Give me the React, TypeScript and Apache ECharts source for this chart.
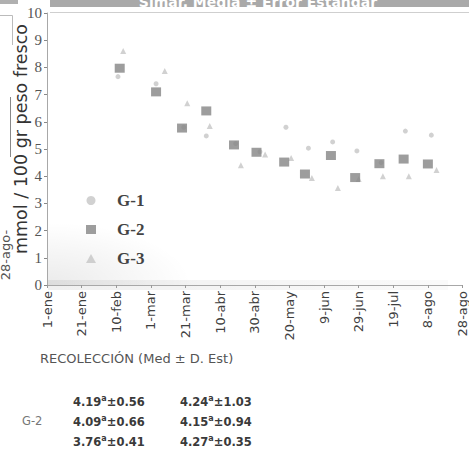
import React, { useEffect, useRef } from "react";
import * as echarts from "echarts";

// Collection dates (leap year) on the horizontal axis, every 20 days
const tickLabels = [
  "1-ene", "21-ene", "10-feb", "1-mar", "21-mar", "10-abr", "30-abr",
  "20-may", "9-jun", "29-jun", "19-jul", "8-ago", "28-ago",
];

const seriesNames = ["G-1", "G-2", "G-3"];

// G-1 sampling dates and means (mmol / 100 g fresh weight)
const g1Dates = ["11-feb", "4-mar", "20-mar", "2-abr", "19-abr", "3-may", "18-may", "31-may", "14-jun", "28-jun", "12-jul", "26-jul", "10-ago"];
const g1Values = [7.66, 7.4, 5.8, 5.48, 5.2, 4.9, 5.8, 5.03, 5.26, 4.93, 4.5, 5.66, 5.51];

// G-2
const g2Dates = ["12-feb", "4-mar", "19-mar", "2-abr", "18-abr", "1-may", "17-may", "29-may", "13-jun", "27-jun", "11-jul", "25-jul", "8-ago"];
const g2Values = [7.97, 7.1, 5.77, 6.4, 5.15, 4.88, 4.52, 4.08, 4.76, 3.95, 4.46, 4.63, 4.45];

// G-3
const g3Dates = ["14-feb", "9-mar", "22-mar", "4-abr", "22-abr", "6-may", "21-may", "2-jun", "17-jun", "29-jun", "13-jul", "28-jul", "13-ago"];
const g3Values = [8.6, 7.87, 6.68, 5.85, 4.4, 4.8, 4.67, 3.93, 3.57, 3.9, 4.0, 4.0, 4.23];

// Summary rows printed under the chart
const summaryLabel = "G-2";
const summaryCol1 = [["4.19", "0.56"], ["4.09", "0.66"], ["3.76", "0.41"]];
const summaryCol2 = [["4.24", "1.03"], ["4.15", "0.94"], ["4.27", "0.35"]];

const monthStart: Record<string, number> = {
  ene: 0, feb: 31, mar: 60, abr: 91, may: 121, jun: 152, jul: 182, ago: 213,
};

function dayOfYear(label: string): number {
  const [d, m] = label.split("-");
  return monthStart[m] + Number(d) - 1;
}

function pairs(dates: string[], values: number[]) {
  return dates.map((d, i) => [dayOfYear(d), values[i]]);
}

const SANS = "DejaVu Sans, Verdana, sans-serif";
const SERIF = "Liberation Serif, Times New Roman, serif";

export default function App() {
  const ref = useRef<HTMLDivElement>(null);

  useEffect(() => {
    if (!ref.current) return;
    const chart = echarts.init(ref.current, undefined, { renderer: "svg" });

    const summaryTexts: any[] = [];
    const rowY = [402, 422, 442];
    rowY.forEach((y, i) => {
      [summaryCol1, summaryCol2].forEach((col, c) => {
        const [m, e] = col[i];
        summaryTexts.push({
          type: "text",
          left: c === 0 ? 73 : 180,
          top: y - 8,
          style: {
            text: `{v|${m}}{s|a}{v|±${e}}`,
            rich: {
              v: { fontFamily: SANS, fontWeight: "bold", fontSize: 11.5, fill: "#3a3a3a", lineHeight: 16 },
              s: { fontFamily: SANS, fontWeight: "bold", fontSize: 8, fill: "#3a3a3a", lineHeight: 16, verticalAlign: "top", padding: [0, 0, 4, 0] },
            },
          },
        });
      });
    });

    chart.setOption({
      animation: false,
      backgroundColor: "#ffffff",
      grid: { left: 47, right: 3, top: 13, bottom: 165, containLabel: false },
      xAxis: {
        type: "value",
        min: 0,
        max: 240,
        interval: 20,
        axisLine: { show: true, lineStyle: { color: "#a8a8a8", width: 1 } },
        axisTick: { show: true, length: 3, lineStyle: { color: "#999" } },
        splitLine: { show: false },
        axisLabel: {
          rotate: 90,
          margin: 6,
          fontFamily: SANS,
          fontSize: 13,
          color: "#3f3f3f",
          formatter: (v: number) => tickLabels[Math.round(v / 20)] ?? "",
        },
      },
      yAxis: {
        type: "value",
        min: 0,
        max: 10,
        interval: 1,
        axisLine: { show: true, lineStyle: { color: "#a8a8a8", width: 1 } },
        axisTick: { show: true, length: 3, lineStyle: { color: "#888" } },
        splitLine: { show: false },
        axisLabel: { fontFamily: SERIF, fontSize: 15, color: "#555", margin: 5 },
      },
      legend: {
        orient: "vertical",
        left: 81,
        top: 187,
        itemWidth: 10,
        itemHeight: 9,
        itemGap: 12,
        data: seriesNames,
        textStyle: { fontFamily: SERIF, fontWeight: "bold", fontSize: 17, color: "#444", padding: [0, 0, 0, 16] },
      },
      series: [
        {
          name: seriesNames[0],
          type: "scatter",
          symbol: "circle",
          symbolSize: 5,
          itemStyle: { color: "#c6c6c6" },
          data: pairs(g1Dates, g1Values),
          z: 2,
        },
        {
          name: seriesNames[2],
          type: "scatter",
          symbol: "triangle",
          symbolSize: 6,
          itemStyle: { color: "#c6c6c6" },
          data: pairs(g3Dates, g3Values),
          z: 2,
        },
        {
          name: seriesNames[1],
          type: "scatter",
          symbol: "rect",
          symbolSize: [10, 9],
          itemStyle: { color: "#858585" },
          data: pairs(g2Dates, g2Values),
          z: 3,
        },
      ],
      graphic: [
        // soft shading in the lower-left of the plot
        {
          type: "rect",
          z: -10,
          shape: { x: 48, y: 215, width: 160, height: 70 },
          style: {
            fill: new echarts.graphic.RadialGradient(0, 1, 0.9, [
              { offset: 0, color: "rgba(0,0,0,0.08)" },
              { offset: 1, color: "rgba(0,0,0,0)" },
            ]),
          },
        },
        {
          type: "rect",
          z: -10,
          shape: { x: 48, y: 280, width: 400, height: 10 },
          style: {
            fill: new echarts.graphic.LinearGradient(0, 0, 1, 0, [
              { offset: 0, color: "rgba(0,0,0,0.06)" },
              { offset: 1, color: "rgba(0,0,0,0.02)" },
            ]),
          },
        },
        // title bar
        { type: "rect", shape: { x: 50, y: 0, width: 419, height: 7 }, style: { fill: "#a9a9a9" } },
        {
          type: "text",
          x: 258,
          y: 9,
          style: {
            text: "Simar. Media ± Error Estándar",
            fontFamily: SANS,
            fontWeight: "bold",
            fontSize: 14,
            fill: "#ffffff",
            align: "center",
            verticalAlign: "bottom",
          },
        },
        { type: "line", shape: { x1: 50, y1: 12.5, x2: 469, y2: 12.5 }, style: { stroke: "#cfcfcf", lineWidth: 1 } },
        // edge of the neighbouring panel
        { type: "rect", shape: { x: 0, y: 0, width: 18, height: 4 }, style: { fill: "#b0b0b0" } },
        { type: "polyline", shape: { points: [[0, 15.5], [12.5, 15.5], [12.5, 45]] }, style: { stroke: "#bbbbbb", fill: null, lineWidth: 1 } },
        { type: "line", shape: { x1: 10.5, y1: 97, x2: 10.5, y2: 157 }, style: { stroke: "#888", lineWidth: 1 } },
        {
          type: "text",
          x: 5,
          y: 255,
          rotation: Math.PI / 2,
          style: { text: "28-ago-", fontFamily: SANS, fontSize: 13, fill: "#555", align: "center", verticalAlign: "middle" },
        },
        // axis titles
        {
          type: "text",
          x: 21,
          y: 139,
          rotation: Math.PI / 2,
          style: {
            text: "mmol / 100 gr peso fresco",
            fontFamily: SANS,
            fontSize: 17.5,
            fill: "#333",
            align: "center",
            verticalAlign: "middle",
          },
        },
        {
          type: "text",
          left: 40,
          top: 352,
          style: { text: "RECOLECCIÓN (Med ± D. Est)", fontFamily: SANS, fontSize: 13, fill: "#555" },
        },
        {
          type: "text",
          left: 22,
          top: 415,
          style: { text: summaryLabel, fontFamily: SANS, fontSize: 11.5, fill: "#777" },
        },
        ...summaryTexts,
      ],
    });

    return () => chart.dispose();
  }, []);

  return (
    <div
      ref={ref}
      style={{ position: "fixed", left: 0, top: 0, width: 469, height: 450 }}
    />
  );
}
